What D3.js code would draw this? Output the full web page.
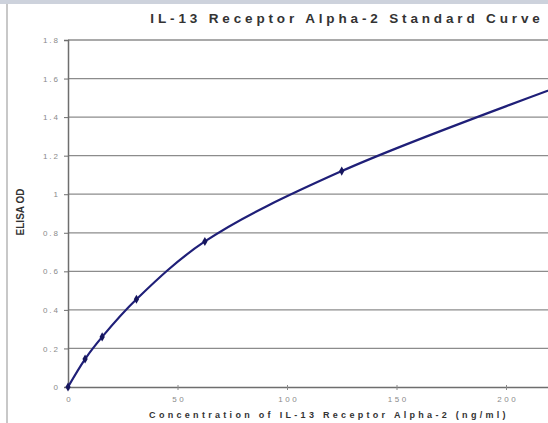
<!DOCTYPE html>
<html><head><meta charset="utf-8">
<script src="https://cdn.jsdelivr.net/npm/d3@7"></script>
<style>html,body{margin:0;padding:0;background:#fff;overflow:hidden}</style>
</head><body>
<svg id="c" width="548" height="423"></svg>
<script>
const concentrations = [0, 7.8, 15.6, 31.25, 62.5, 125, 250];
const odValues = [0, 0.145, 0.26, 0.455, 0.755, 1.12, 1.665];
const yTicks = [0, 0.2, 0.4, 0.6, 0.8, 1, 1.2, 1.4, 1.6, 1.8];
const xTicks = [0, 50, 100, 150, 200];
const titleText = "IL-13 Receptor Alpha-2 Standard Curve";
const xLabel = "Concentration of IL-13 Receptor Alpha-2 (ng/ml)";
const yLabel = "ELISA OD";

const FONT = "Arial, Liberation Sans, sans-serif";
const svg = d3.select("#c");
// background decorations
svg.append("rect").attr("x",0).attr("y",0).attr("width",548).attr("height",4).attr("fill","#cdd2dc");
svg.append("rect").attr("x",6).attr("y",4).attr("width",2).attr("height",419).attr("fill","#c8c8c8");

const x0 = 68, y0 = 387, yTop = 40;
const x = d3.scaleLinear().domain([0,250]).range([x0, x0 + 250*2.19]);
const y = d3.scaleLinear().domain([0,1.8]).range([y0, yTop]);

// gridlines
svg.append("g").selectAll("line").data(yTicks.filter(d=>d>0)).join("line")
  .attr("x1", x0).attr("x2", 548)
  .attr("y1", d=>y(d)).attr("y2", d=>y(d))
  .attr("stroke","#8c8c8c").attr("stroke-width",1.3);

// y axis
const ya = svg.append("g").attr("transform",`translate(${x0},0)`)
  .call(d3.axisLeft(y).tickValues(yTicks).tickSize(4).tickPadding(4).tickFormat(d=>String(d)));
ya.select(".domain").attr("stroke","#6e6e6e").attr("stroke-width",1.5);
ya.selectAll(".tick line").attr("stroke","#6e6e6e");
ya.selectAll("text").attr("fill","#8a8a8a").attr("font-family",FONT).attr("font-size",8).attr("letter-spacing",2);

// x axis
const xa = svg.append("g").attr("transform",`translate(0,${y0})`)
  .call(d3.axisBottom(x).tickValues(xTicks).tickSize(3).tickPadding(6).tickFormat(d=>String(d)));
xa.select(".domain").attr("stroke","#6e6e6e").attr("stroke-width",1.5);
xa.selectAll(".tick line").attr("stroke","#8a8a8a").attr("y1",-2);
xa.selectAll("text").attr("fill","#8a8a8a").attr("font-family",FONT).attr("font-size",8).attr("letter-spacing",2.5).attr("dx",1.2);

// line
const pts = concentrations.map((c,i)=>[c, odValues[i]]);
svg.append("path").datum(pts)
  .attr("fill","none").attr("stroke","#1f1f78").attr("stroke-width",2.2)
  .attr("d", d3.line().curve(d3.curveCatmullRom.alpha(0.5)).x(d=>x(d[0])).y(d=>y(d[1])));
svg.append("g").selectAll("path").data(pts).join("path")
  .attr("transform", d=>`translate(${x(d[0])},${y(d[1])})`)
  .attr("d", d3.symbol(d3.symbolDiamond, 24))
  .attr("fill","#16165e");

// title
svg.append("text").attr("x",347).attr("y",23).attr("text-anchor","middle")
  .attr("font-family",FONT).attr("font-weight","bold")
  .attr("font-size",13.5).attr("letter-spacing",3.85).attr("fill","#333").text(titleText);
// x label
svg.append("text").attr("x",329).attr("y",418).attr("text-anchor","middle")
  .attr("font-family",FONT).attr("font-weight","bold")
  .attr("font-size",9).attr("letter-spacing",3.3).attr("fill","#333").text(xLabel);
// y label
svg.append("text").attr("transform","translate(24,212) rotate(-90)").attr("text-anchor","middle")
  .attr("font-family",FONT).attr("font-weight","bold")
  .attr("font-size",10).attr("fill","#333").text(yLabel);
</script>
</body></html>
